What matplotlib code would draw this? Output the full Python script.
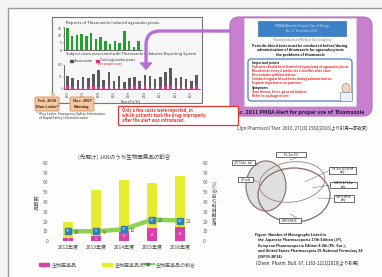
import numpy as np
import matplotlib
matplotlib.use("Agg")
import matplotlib.pyplot as plt
from matplotlib.patches import Rectangle, FancyBboxPatch, Ellipse, FancyArrowPatch
from matplotlib.path import Path
from matplotlib.patches import PathPatch

plt.rcParams['font.family'] = ['Noto Sans CJK JP', 'DejaVu Sans']

W, H = 382, 277

# top-left: agranulocytosis reports
green_counts = [15, 10, 10.5, 11, 10, 12, 7.5, 9, 6, 4.5, 6, 5, 13, 6.5, 2.4, 6]
gray_total = [55, 45, 38, 52, 45, 62, 80, 38, 72, 35, 55, 30, 45, 50, 32, 60,
              55, 42, 48, 70, 88, 45, 52, 40, 35, 60]
pink_improper = [12, 8, 10, 6, 9, 14, 10, 8, 12, 6, 10, 5, 9, 12, 6, 15,
                 10, 8, 9, 14, 12, 8, 10, 7, 6, 11]
gray_ticks = ['2000', '2002', '2004', '2006', '2008', '2010', '2012', '2014', '2016']

# bottom-left: biologics share of JAN
years = ['2012年度', '2013年度', '2014年度', '2015年度', '2016年度']
bio = [3, 5, 10, 13, 14]
non_bio = [16, 47, 53, 46, 53]
bio_ratio = [10, 10, 12, 22, 21]
ratio_labels = ['10', '9', '12', '22', '21']
legend_labels = ['生物医薬品', '生物医薬品以外', '生物医薬品の割合']

# bottom-right: Venn labels
venn_boxes = ['Ph. Eur. 8.0', 'JP17 (Excl. 1st)', 'JP only', 'Ph. Eur. & USP-NF\nonly',
              'USP39 & Ph.Eur\nonly', 'USP39-NF34\nonly', 'USP39-NF34']
caption = ['Figure. Number of Monographs Listed in',
           'the Japanese Pharmacopoeia 17th Edition (JP),',
           'European Pharmacopoeia Edition 8.0th (Ph. Eur.),',
           'and United States Pharmacopeia 39-National Formulary 34',
           '(USP39-NF34)']


def px_axes(x0, y0, x1, y1, **kw):
    return fig.add_axes([x0 / W, 1 - y1 / H, (x1 - x0) / W, (y1 - y0) / H], **kw)


fig = plt.figure(figsize=(3.82, 2.77), dpi=100)
fig.patch.set_facecolor('#f3f3f1')

bg = px_axes(0, 0, W, H, zorder=0)
bg.set_xlim(0, W)
bg.set_ylim(H, 0)
bg.axis('off')
bg.add_patch(Rectangle((8, 8), 380, 280, facecolor='#fdfdfc', edgecolor='#9a9a9a', lw=1))

# ---------------- top left panel
bg.add_patch(Rectangle((52, 17), 150, 86, facecolor='#f7f7f7', edgecolor='#777777', lw=0.8))
bg.text(66, 23, 'Reports of Thiamazole-induced agranulocytosis', fontsize=3, color='#333333', va='center')
bg.text(66, 54, 'Subject cases associated with Thiamazole in Adverse Reporting System', fontsize=2.8,
        color='#333333', va='center')
bg.add_patch(Rectangle((70, 59.5), 3, 2, color='#555555'))
bg.text(74, 60.5, 'Thiamazole', fontsize=2.5, color='#333333', va='center')
bg.add_patch(Rectangle((96, 59.5), 3, 2, color='#e0307a'))
bg.text(100, 60.5, 'Total agranulocytosis', fontsize=2.5, color='#333333', va='center')
bg.text(98, 64.5, '(Improper use)', fontsize=2.5, color='#e02020', va='center')
bg.text(120, 101.5, 'Year (Fis-Yr)', fontsize=2.6, color='#333333', va='center')

axg = px_axes(64, 27, 142, 50, zorder=2)
axg.bar(np.arange(len(green_counts)), green_counts, width=0.55, color='#1fa32a')
axg.set_ylim(0, 16)
axg.set_xlim(-0.7, len(green_counts) - 0.3)
axg.set_yticks([0, 5, 10, 15])
axg.tick_params(labelsize=2.5, length=1, width=0.3, pad=0.5, colors='#333333')
axg.set_xticks([])
for s in ['top', 'right']:
    axg.spines[s].set_visible(False)
for s in ['left', 'bottom']:
    axg.spines[s].set_linewidth(0.4)
axg.patch.set_alpha(0)

axb = px_axes(64, 65, 200, 89, zorder=2)
xb = np.arange(len(gray_total))
axb.bar(xb, gray_total, width=0.5, color='#5a5a5e')
axb.bar(xb, pink_improper, width=0.5, color='#e8308a')
axb.set_ylim(0, 100)
axb.set_xlim(-0.7, len(gray_total) - 0.3)
axb.set_yticks([0, 50, 100])
axb.set_xticks(np.arange(0, len(gray_total), 3))
axb.set_xticklabels(gray_ticks, rotation=90)
axb.tick_params(labelsize=2.0, length=1, width=0.3, pad=0.5, colors='#555555')
for s in ['top', 'right']:
    axb.spines[s].set_visible(False)
for s in ['left', 'bottom']:
    axb.spines[s].set_linewidth(0.4)
axb.patch.set_alpha(0)

# ---------------- top right panel
bg.add_patch(FancyBboxPatch((230, 17), 142, 99, boxstyle='round,pad=0,rounding_size=9',
                            facecolor='#c77fce', edgecolor='#b46cbf', lw=0.8))
bg.add_patch(Rectangle((244, 18), 112, 88, facecolor='#fbfbfb', edgecolor='#dddddd', lw=0.4))
bg.add_patch(Rectangle((258, 21), 88, 15, facecolor='#3d82c8', edgecolor='#2a5f9e', lw=0.4))
bg.text(302, 26, 'PMDA Alert for Proper Use of Drugs', fontsize=2.4, color='#dfeaf7', ha='center', va='center')
bg.text(302, 31, 'No. 27  December 2011', fontsize=2.2, color='#cfe0f2', ha='center', va='center')
bg.text(302, 40, 'Pharmaceuticals and Medical Devices Agency', fontsize=2, color='#777777', ha='center', va='center')
bg.text(300, 46, 'Periodic blood tests must be conducted before/during', fontsize=2.6, color='#111111',
        ha='center', va='center', fontweight='bold')
bg.text(300, 50.5, 'administration of thiamazole for agranulocytosis', fontsize=2.6, color='#111111',
        ha='center', va='center', fontweight='bold')
bg.text(300, 55, 'the problems of thiamazole', fontsize=2.6, color='#111111',
        ha='center', va='center', fontweight='bold')
bg.add_patch(FancyBboxPatch((248, 59), 104, 42, boxstyle='round,pad=0,rounding_size=3',
                            facecolor='#ffffff', edgecolor='#3a6fc0', lw=0.8))
red_lines = [(63, 'Important points'), (67, 'Patients should be informed of symptoms of agranulocytosis'),
             (71, 'Blood tests every 2 weeks for 2 months after start'), (75, 'Discontinue administration'),
             (79, 'Conduct regular blood tests during administration'), (83, 'Explain importance to patients'),
             (88, 'Symptoms'), (92, 'Sore throat, fever, general malaise'), (96, 'Refer to package insert')]
for yy, tt in red_lines:
    col = '#111111' if tt in ('Important points', 'Symptoms') else '#e8231e'
    bg.text(252, yy, tt, fontsize=2.3, color=col, va='center', fontweight='bold')
bg.add_patch(Ellipse((346, 88), 8, 9, facecolor='#f4d6c0', edgecolor='#777777', lw=0.4))
bg.add_patch(Rectangle((340, 92), 12, 9, facecolor='#eaf2fb', edgecolor='#777777', lw=0.4))
bg.text(333, 112.5, 'Dec. 2011 PMDA Alert for proper use of', fontsize=3.8, color='#1a1a3a',
        ha='right', va='center', fontweight='bold')
bg.text(335, 112.5, 'Thiamazole', fontsize=3.8, color='#1a1a3a', ha='left', va='center',
        fontweight='bold', style='italic')
bg.text(302, 128, '(Jpn Pharmacol Ther. 2016, 27(10) 1562(2016)より引用一部改変)', fontsize=3.2,
        color='#333333', ha='center', va='center')

# ---------------- bottom left chart
axc = px_axes(51, 163, 197, 241, zorder=2)
xc = np.arange(len(years))
axc.bar(xc, bio, width=0.36, color='#d940a8')
axc.bar(xc, non_bio, bottom=bio, width=0.36, color='#e6ec2e')
for i, v in enumerate(bio):
    axc.text(i, v / 2, str(v), fontsize=3, color='#f4c8e6', ha='center', va='center')
axc.set_ylim(0, 80)
axc.set_xlim(-0.6, 4.6)
axc.set_yticks(range(0, 81, 10))
axc.set_xticks(xc)
axc.set_xticklabels(years)
axc.tick_params(labelsize=3.6, length=0, pad=2, colors='#666666')
axc.tick_params(axis='x', pad=2.5, colors='#444444')
for s in axc.spines.values():
    s.set_visible(False)
axc.patch.set_alpha(0)
axc.set_ylabel('品目数', fontsize=3.8, color='#555555', labelpad=3)
axc.set_title('(先駆け) JANのうち生物医薬品の割合', fontsize=4, color='#444444', pad=3)

axr = axc.twinx()
axr.plot(xc, bio_ratio, color='#8fd150', lw=3.2, solid_capstyle='round', zorder=3)
axr.plot(xc, bio_ratio, ls='none', marker='s', ms=4.2, mfc='#2f7fc4', mec='#2f7fc4', zorder=4)
for i, v in enumerate(bio_ratio):
    axr.text(i, v, ratio_labels[i], fontsize=2.5, color='#ffffff', ha='center', va='center', zorder=5)
    axr.text(i + 0.3, v - 1, ratio_labels[i], fontsize=3.6, color='#555555', ha='center', va='center', zorder=5)
axr.set_ylim(0, 80)
axr.set_yticks(range(0, 81, 10))
axr.tick_params(labelsize=3.6, length=0, pad=4, colors='#666666')
for s in axr.spines.values():
    s.set_visible(False)
axr.set_ylabel('生物医薬品の割合(%)', fontsize=3.4, color='#555555', labelpad=3)

# legend
bg.add_patch(Rectangle((39, 263), 10, 2.5, color='#d940a8'))
bg.text(52, 264.3, legend_labels[0], fontsize=3.6, color='#555555', va='center')
bg.add_patch(Rectangle((102, 263), 10, 2.5, color='#e6ec2e'))
bg.text(115, 264.3, legend_labels[1], fontsize=3.6, color='#555555', va='center')
bg.plot([142, 154], [264.3, 264.3], color='#8fd150', lw=1.6)
bg.plot([148], [264.3], marker='s', ms=2, color='#2f7fc4')
bg.text(156, 264.3, legend_labels[2], fontsize=3.6, color='#555555', va='center')

# ---------------- bottom right venn
vc = '#8a6a6a'
bg.add_patch(Ellipse((266, 186), 40, 50, facecolor='#dcdcdc', edgecolor=vc, lw=0.9, alpha=0.9))
bg.add_patch(Ellipse((294, 195), 72, 54, facecolor='none', edgecolor=vc, lw=0.9))
bg.add_patch(Ellipse((292, 182), 66, 40, angle=-8, facecolor='none', edgecolor='#9a8080', lw=0.6))
boxes = [(276, 152, 30, 5), (232, 160, 23, 5), (238, 177, 15, 5), (329, 167, 27, 7),
         (330, 182, 27, 6), (334, 195, 20, 7), (279, 218, 22, 5)]
anchors = [(290, 160), (258, 166), (258, 182), (305, 182), (312, 188), (318, 198), (290, 214)]
for (bx, by, bw, bh), lab, (ax_, ay_) in zip(boxes, venn_boxes, anchors):
    bg.add_patch(Rectangle((bx, by), bw, bh, facecolor='#ffffff', edgecolor='#333333', lw=0.5, zorder=3))
    bg.text(bx + bw / 2, by + bh / 2, lab, fontsize=1.9, ha='center', va='center', color='#111111',
            zorder=4, linespacing=0.9)
    cx = bx if bx > ax_ else bx + bw
    bg.plot([cx, ax_], [by + bh / 2, ay_], color='#555555', lw=0.3, zorder=2)
for i, line in enumerate(caption):
    bg.text(255 if i == 0 else 258, 235 + i * 5.3, line, fontsize=2.6, color='#1a1a1a', va='center',
            fontweight='bold')
bg.text(256, 263, '(Chem. Pharm. Bull. 67, 1163-1211(2019)より引用)', fontsize=3.2, color='#222222',
        va='center')

# ---------------- foreground: arrow, callouts, red box
fg = px_axes(0, 0, W, H, zorder=10)
fg.set_xlim(0, W)
fg.set_ylim(H, 0)
fg.axis('off')
verts = [(230, 31), (160, 31), (146, 31), (146, 45), (146, 66)]
codes = [Path.MOVETO, Path.LINETO, Path.CURVE3, Path.CURVE3, Path.LINETO]
fg.add_patch(PathPatch(Path(verts, codes), facecolor='none', edgecolor='#b56fd6', lw=2.4, capstyle='butt'))
fg.add_patch(FancyArrowPatch((146, 64), (146, 73), arrowstyle='-|>,head_length=2.5,head_width=2.2',
                             color='#b56fd6', lw=0.5, mutation_scale=2))

for (cx0, cy0), t1, t2 in [((35, 97), 'Feb. 2008', 'Blue Letter*'), ((70, 97), 'Nov. 2007', 'Warning')]:
    fg.add_patch(FancyBboxPatch((cx0, cy0), 24, 14, boxstyle='round,pad=0,rounding_size=1.5',
                                facecolor='#f3c8a0', edgecolor='#d98a58', lw=0.6))
    fg.text(cx0 + 12, cy0 + 4, t1, fontsize=2.8, ha='center', va='center', color='#3a2010', fontweight='bold')
    fg.text(cx0 + 12, cy0 + 10, t2, fontsize=2.8, ha='center', va='center', color='#3a2010', fontweight='bold')
fg.add_patch(Rectangle((51, 93), 4, 4, facecolor='#f3c8a0', edgecolor='none'))
fg.text(37, 114, '* Blue Letter: Emergency Safety Information', fontsize=2.4, color='#333333', va='center')
fg.text(39, 118, 'of Rapid Safety Communication', fontsize=2.4, color='#333333', va='center')

fg.add_patch(Rectangle((118, 106), 120, 19, facecolor='#ffffff', edgecolor='#e8332a', lw=0.9))
red_txt = ['Only a few cases were reported, in',
           'which patients took the drug improperly',
           'after the alert was introduced.']
for i, t in enumerate(red_txt):
    fg.text(122, 110.5 + i * 5, t, fontsize=3, color='#e8332a', va='center', fontweight='bold')

fig.savefig('out.png', dpi=100, facecolor=fig.get_facecolor())
